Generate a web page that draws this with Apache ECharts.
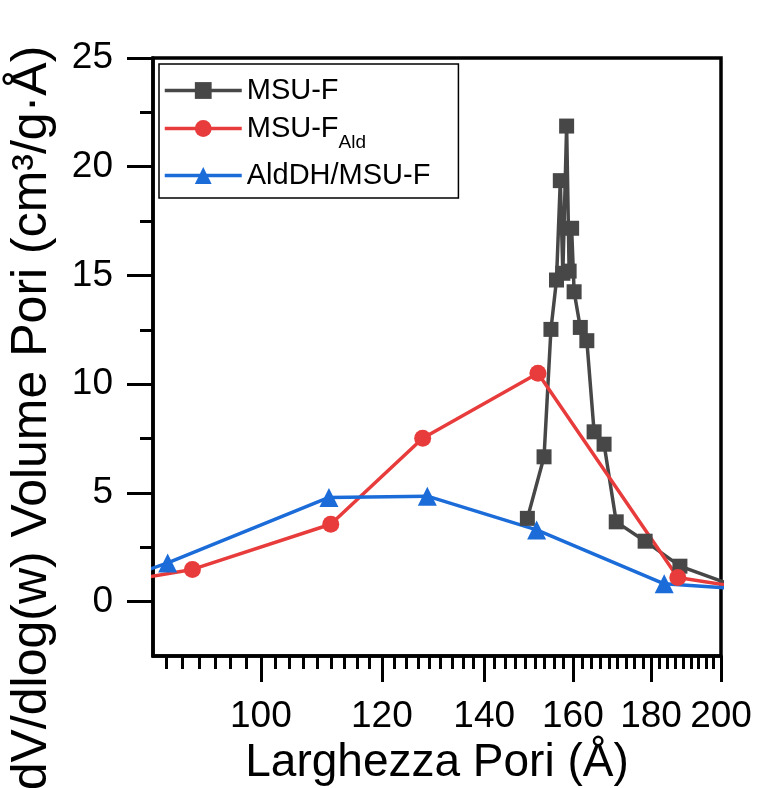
<!DOCTYPE html>
<html><head><meta charset="utf-8">
<script src="https://cdn.jsdelivr.net/npm/echarts@6/dist/echarts.min.js"></script>
<style>html,body{margin:0;padding:0;background:#fff}#c{width:759px;height:788px}</style>
</head><body><div id="c"></div>
<script>
// Pore width (Å) vs dV/dlog(w)
const msuF = [[149.4,3.83],[153.2,6.66],[154.8,12.52],[156.1,14.79],[157.0,19.36],[157.6,15.1],[158.5,21.87],[159.1,15.2],[159.7,17.17],[160.3,14.25],[161.8,12.61],[163.4,12.0],[165.2,7.81],[167.7,7.24],[170.8,3.67],[178.4,2.78],[188.0,1.63],[205,0.67]];
const msuFAld = [[80,0.85],[90.2,1.48],[111.1,3.56],[127.6,7.51],[151.8,10.5],[187.4,1.11],[215,0.46]];
const aldDH = [[80,0.9],[86.9,1.78],[110.8,4.79],[128.5,4.85],[151.5,3.3],[183.6,0.82],[225,0.40]];
const xMajorTicks = [100,120,140,160,180,200];
const yMajorTicks = [0,5,10,15,20,25];
const yMinorTicks = [2.5,7.5,12.5,17.5,22.5];
const xMinorTicks = [];
[80,100,120,140,160,180].forEach(m => { for (let k=1;k<=8;k++){ const v = m + k*20/9; if (v>85 && v<200) xMinorTicks.push(v); } });

const FONT = 'Liberation Sans, Arial, sans-serif';
const chart = echarts.init(document.getElementById('c'));
chart.setOption({
  animation:false,
  backgroundColor:'#fff',
  grid:{left:153,right:38,top:58,bottom:132,show:true,borderColor:'#000',borderWidth:3.5,backgroundColor:'transparent',outerBoundsMode:'none',containLabel:false},
  legend:{
    orient:'vertical', left:159, top:64, padding:[12,28,8,4], itemGap:9, itemWidth:77, itemHeight:21,
    borderColor:'#000', borderWidth:1.5,
    lineStyle:{width:3.5},
    data:['MSU-F','MSU-FAld','AldDH/MSU-F'],
    formatter: n => n==='MSU-FAld' ? '{m|MSU-F}{s|Ald}{z| }' : '{m|'+n+'}',
    textStyle:{color:'#000',fontFamily:FONT,fontSize:29,
      rich:{m:{fontSize:29,lineHeight:34,verticalAlign:'middle',fontFamily:FONT,color:'#000'},
            s:{fontSize:19,lineHeight:20,verticalAlign:'bottom',fontFamily:FONT,color:'#000'},
            z:{fontSize:1,lineHeight:47,verticalAlign:'bottom',fontFamily:FONT,color:'#000'}}}
  },
  xAxis:[
    {type:'log',logBase:10,min:85,max:200,position:'bottom',
     axisLine:{show:true,onZero:false,lineStyle:{color:'#000',width:3.5}},
     axisTick:{show:true,inside:false,length:26,customValues:xMajorTicks,lineStyle:{color:'#000',width:3}},
     axisLabel:{customValues:xMajorTicks,fontSize:37,color:'#000',margin:42,fontFamily:FONT},
     splitLine:{show:false},minorTick:{show:false},
     name:'Larghezza Pori (Å)',nameLocation:'middle',nameGap:83,
     nameTextStyle:{fontSize:46,color:'#000',fontFamily:FONT}},
    {type:'log',logBase:10,min:85,max:200,position:'bottom',
     axisLine:{show:false,onZero:false},
     axisTick:{show:true,inside:false,length:13,customValues:xMinorTicks,lineStyle:{color:'#000',width:3}},
     axisLabel:{show:false},splitLine:{show:false}}
  ],
  yAxis:[
    {type:'value',min:-2.5,max:25,position:'left',
     axisLine:{show:true,onZero:false,lineStyle:{color:'#000',width:3.5}},
     axisTick:{show:true,inside:false,length:26,customValues:yMajorTicks,lineStyle:{color:'#000',width:3}},
     axisLabel:{customValues:yMajorTicks,fontSize:37,color:'#000',margin:40,fontFamily:FONT},
     splitLine:{show:false},
     name:'dV/dlog(w) Volume Pori (cm³/g·Å)',nameLocation:'middle',nameGap:96,nameRotate:90,
     nameTextStyle:{fontSize:50,color:'#000',fontFamily:FONT,padding:[0,122,0,0]}},
    {type:'value',min:-2.5,max:25,position:'left',
     axisLine:{show:false,onZero:false},
     axisTick:{show:true,inside:false,length:13,customValues:yMinorTicks,lineStyle:{color:'#000',width:3}},
     axisLabel:{show:false},splitLine:{show:false}}
  ],
  series:[
    {name:'MSU-F',type:'line',data:msuF,symbol:'rect',symbolSize:15,color:'#474747',
     lineStyle:{width:3.5,color:'#474747'},itemStyle:{color:'#474747'},clip:true},
    {name:'MSU-FAld',type:'line',data:msuFAld,symbol:'circle',symbolSize:17,color:'#e83c3c',
     lineStyle:{width:3.5,color:'#e83c3c'},itemStyle:{color:'#e83c3c'},clip:true},
    {name:'AldDH/MSU-F',type:'line',data:aldDH,symbol:'triangle',symbolSize:19,color:'#1b6cd9',
     lineStyle:{width:3.5,color:'#1b6cd9'},itemStyle:{color:'#1b6cd9'},clip:true}
  ]
});
</script></body></html>
